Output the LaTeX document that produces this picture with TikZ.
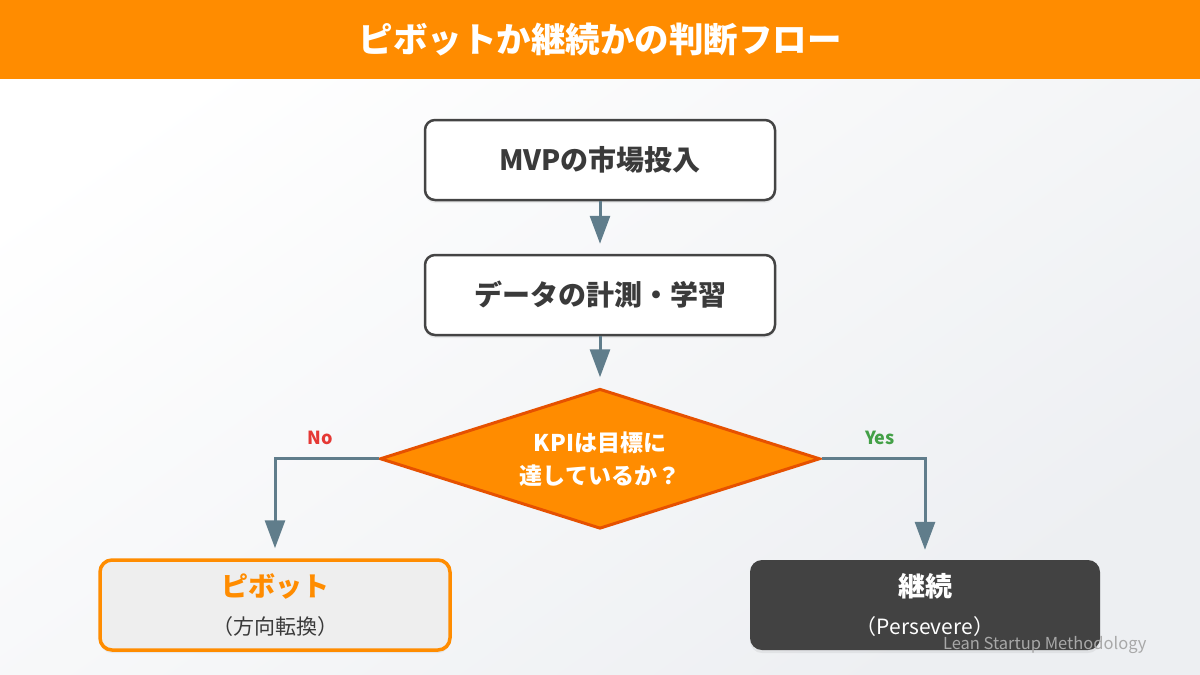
\documentclass[tikz,border=0pt]{standalone}
\usepackage{fontspec}
\setmainfont{Noto Sans CJK JP}
\usetikzlibrary{arrows.meta, shapes.geometric, positioning, shadows}
\definecolor{brandorange}{HTML}{FF8C00}
\definecolor{diaedge}{HTML}{E65100}
\definecolor{boxedge}{HTML}{444444}
\definecolor{boxtext}{HTML}{3A3A3A}
\definecolor{arrowgray}{HTML}{607D8B}
\definecolor{nored}{HTML}{E53935}
\definecolor{yesgreen}{HTML}{43A047}
\definecolor{pivotfill}{HTML}{EEEEEE}
\definecolor{keepfill}{HTML}{424242}
\definecolor{bgshade}{HTML}{EDEFF2}
\definecolor{foottext}{HTML}{A8A8A8}
\tikzset{
  stepbox/.style={rectangle, draw=boxedge, fill=white, rounded corners=10pt,
              line width=2.5pt, minimum width=350pt, minimum height=80pt,
              text=boxtext, font=\fontsize{28}{32}\selectfont\bfseries,
              drop shadow={opacity=0.12, shadow xshift=0pt, shadow yshift=-3pt}},
  decide/.style={diamond, aspect=3.14, draw=diaedge, fill=brandorange,
              line width=3pt, minimum width=440pt, minimum height=140pt,
              inner sep=0pt, text=white, align=center,
              font=\fontsize{23}{33}\selectfont\bfseries},
  result/.style={rectangle, rounded corners=12pt, minimum width=350pt,
              minimum height=90pt, align=center, font=\fontsize{21}{38}\selectfont,
              drop shadow={opacity=0.12, shadow xshift=0pt, shadow yshift=-3pt}},
  flow/.style={-{Triangle[length=28pt, width=20pt]}, line width=3pt,
              draw=arrowgray, shorten >=10pt},
  answer/.style={font=\fontsize{18}{20}\selectfont\bfseries}
}
\begin{document}
\begin{tikzpicture}[x=1pt, y=-1pt, node distance=52.5pt and 100pt]
  \shade[top color=white, bottom color=bgshade, shading angle=35]
    (0,0) rectangle (1200,675);
  \useasboundingbox (0,0) rectangle (1200,675);
  \fill[brandorange] (0,0) rectangle (1200,79);
  \node[text=white, font=\fontsize{34.5}{40}\selectfont\bfseries] (title) at (600,40)
    {ピボットか継続かの判断フロー};

  \node[stepbox] (mvp) at (600,160) {MVPの市場投入};
  \node[stepbox, below=of mvp] (data) {データの計測・学習};
  \node[decide, below=51pt of data] (kpi) {KPIは目標に\\達しているか？};
  \node[result, draw=brandorange, line width=3.5pt, fill=pivotfill] (pivot) at (275,605)
    {{\fontsize{27}{32}\selectfont\bfseries\color{brandorange}ピボット}\\
     {\color{boxtext}（方向転換）}};
  \node[result, fill=keepfill, text=white] (keep) at (925,605)
    {{\fontsize{27}{32}\selectfont\bfseries 継続}\\（Persevere）};

  \draw[flow] (mvp) -- (data);
  \draw[flow] (data) -- (kpi);
  \draw[flow] (kpi.west) -| (pivot.north);
  \draw[flow] (kpi.east) -| (keep.north);
  \node[answer, text=nored] (no) at (320,438) {No};
  \node[answer, text=yesgreen] (yes) at (880,438) {Yes};

  \node[anchor=east, text=foottext, font=\fontsize{16.5}{20}\selectfont] (foot)
    at (1150,645) {Lean Startup Methodology};
\end{tikzpicture}
\end{document}
